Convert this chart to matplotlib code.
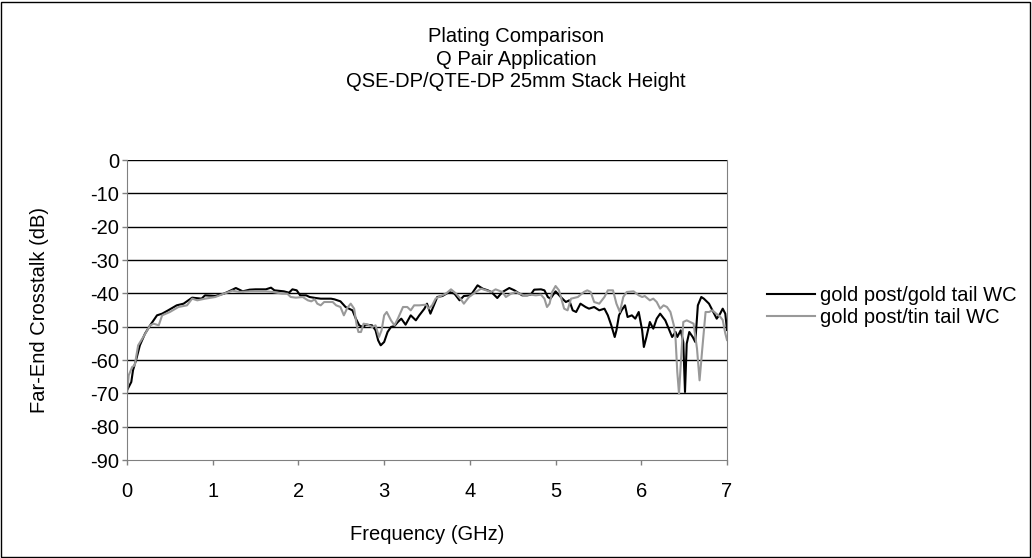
import numpy as np
import matplotlib
matplotlib.use('Agg')
import matplotlib.pyplot as plt
from matplotlib.patches import Rectangle

plt.rcParams['font.family'] = ['Liberation Sans', 'DejaVu Sans']
plt.rcParams['axes.unicode_minus'] = False

# Far-end crosstalk, gold post / gold tail (GHz, dB)
freq_gold = [0.00, 0.05, 0.07, 0.11, 0.15, 0.21, 0.27, 0.35, 0.41, 0.48,
             0.58, 0.66, 0.76, 0.87, 0.91, 1.03, 1.13, 1.19, 1.27, 1.35,
             1.43, 1.50, 1.62, 1.68, 1.72, 1.83, 1.89, 1.93, 1.98, 2.02,
             2.09, 2.13, 2.20, 2.26, 2.38, 2.42, 2.49, 2.55, 2.63, 2.67,
             2.71, 2.75, 2.79, 2.86, 2.90, 2.93, 2.96, 3.00, 3.04, 3.08,
             3.12, 3.16, 3.20, 3.25, 3.31, 3.37, 3.41, 3.47, 3.50, 3.54,
             3.58, 3.62, 3.68, 3.76, 3.82, 3.88, 3.93, 4.01, 4.09, 4.15,
             4.21, 4.25, 4.32, 4.38, 4.46, 4.52, 4.58, 4.61, 4.67, 4.71,
             4.75, 4.83, 4.87, 4.91, 4.94, 5.00, 5.06, 5.12, 5.16, 5.20,
             5.24, 5.29, 5.35, 5.39, 5.45, 5.51, 5.57, 5.61, 5.65, 5.69,
             5.71, 5.74, 5.77, 5.81, 5.84, 5.89, 5.93, 5.97, 6.01, 6.03,
             6.06, 6.10, 6.14, 6.18, 6.22, 6.28, 6.32, 6.36, 6.40, 6.42,
             6.46, 6.49, 6.51, 6.53, 6.56, 6.60, 6.63, 6.66, 6.70, 6.73,
             6.79, 6.84, 6.88, 6.92, 6.95, 6.98, 7.00]
xt_gold = [-69.1, -66.6, -63.1, -59.6, -55.6, -52.1, -49.6, -46.6, -46.1, -45.1,
           -43.6, -43.1, -41.3, -41.6, -40.6, -40.8, -40.1, -39.4, -38.4, -39.4,
           -38.9, -38.8, -38.8, -38.3, -39.1, -39.4, -39.8, -38.8, -39.1, -40.6,
           -40.6, -41.1, -41.4, -41.6, -41.6, -41.8, -42.4, -44.1, -45.1, -47.6,
           -49.6, -50.1, -49.4, -49.6, -51.1, -54.1, -55.6, -54.6, -51.6, -50.1,
           -49.8, -48.6, -47.6, -49.4, -46.6, -48.1, -46.6, -44.6, -43.1, -46.1,
           -43.6, -41.1, -40.8, -39.6, -40.1, -42.1, -40.8, -40.6, -37.6, -38.6,
           -39.1, -39.6, -41.4, -39.6, -38.4, -39.1, -40.1, -40.6, -40.6, -40.4,
           -38.9, -38.8, -39.1, -41.1, -41.6, -39.4, -41.1, -42.6, -42.1, -45.1,
           -45.6, -43.1, -44.1, -44.6, -44.1, -45.1, -44.6, -46.6, -49.6, -53.1,
           -51.1, -46.6, -45.1, -43.6, -47.1, -46.6, -47.6, -45.6, -51.1, -56.1,
           -53.1, -48.6, -50.6, -47.6, -46.1, -48.1, -50.6, -53.1, -51.6, -53.1,
           -51.1, -54.6, -69.6, -55.1, -51.6, -53.1, -54.6, -43.6, -41.1, -41.6,
           -43.1, -45.6, -47.6, -46.1, -44.6, -46.1, -51.0]

# Far-end crosstalk, gold post / tin tail (GHz, dB)
freq_tin = [0.00, 0.02, 0.06, 0.09, 0.13, 0.19, 0.27, 0.31, 0.37, 0.41,
            0.50, 0.60, 0.70, 0.76, 0.82, 0.91, 1.03, 1.13, 1.23, 1.31,
            1.43, 1.62, 1.70, 1.81, 1.87, 1.91, 1.97, 2.05, 2.11, 2.15,
            2.19, 2.22, 2.26, 2.30, 2.40, 2.44, 2.49, 2.53, 2.57, 2.61,
            2.65, 2.68, 2.70, 2.73, 2.76, 2.81, 2.86, 2.90, 2.94, 2.97,
            3.00, 3.03, 3.08, 3.12, 3.16, 3.22, 3.27, 3.31, 3.35, 3.41,
            3.49, 3.52, 3.56, 3.60, 3.66, 3.72, 3.78, 3.84, 3.89, 3.93,
            3.99, 4.07, 4.13, 4.19, 4.25, 4.30, 4.38, 4.42, 4.48, 4.54,
            4.58, 4.63, 4.71, 4.77, 4.83, 4.87, 4.90, 4.93, 4.96, 5.00,
            5.04, 5.10, 5.14, 5.18, 5.26, 5.33, 5.37, 5.41, 5.45, 5.51,
            5.57, 5.61, 5.67, 5.71, 5.75, 5.79, 5.83, 5.91, 5.97, 6.01,
            6.04, 6.10, 6.14, 6.18, 6.22, 6.26, 6.30, 6.34, 6.38, 6.40,
            6.42, 6.44, 6.46, 6.49, 6.53, 6.61, 6.65, 6.68, 6.71, 6.75,
            6.79, 6.83, 6.87, 6.92, 6.95, 6.98, 7.00]
xt_tin = [-70.1, -64.6, -62.1, -61.6, -55.6, -53.1, -49.6, -49.1, -49.6, -46.6,
          -45.6, -44.1, -43.6, -41.6, -42.1, -41.6, -41.1, -40.1, -39.2, -39.6,
          -39.4, -39.4, -39.6, -40.1, -40.1, -41.1, -41.3, -41.1, -42.1, -42.4,
          -41.8, -43.1, -43.6, -42.6, -42.6, -43.6, -44.1, -46.6, -44.4, -43.1,
          -44.6, -49.6, -51.6, -51.6, -49.1, -49.4, -50.1, -49.6, -53.1, -51.1,
          -46.6, -45.6, -48.1, -49.6, -47.6, -44.1, -44.1, -45.1, -43.6, -43.6,
          -43.4, -44.6, -43.6, -41.6, -40.8, -40.1, -38.8, -40.1, -41.6, -43.1,
          -41.1, -39.6, -38.6, -39.1, -39.6, -38.8, -39.6, -41.1, -40.1, -39.6,
          -40.1, -40.6, -40.4, -40.6, -40.4, -41.6, -44.1, -43.1, -39.6, -37.8,
          -39.1, -44.6, -45.1, -41.6, -41.1, -39.6, -39.1, -39.6, -42.6, -43.1,
          -41.1, -39.1, -39.1, -43.1, -45.6, -41.1, -39.6, -39.4, -40.6, -41.1,
          -40.8, -42.1, -41.6, -42.6, -44.6, -43.6, -44.1, -45.6, -49.6, -53.6,
          -63.6, -70.1, -61.6, -48.6, -48.1, -49.1, -56.6, -66.1, -57.1, -45.6,
          -45.6, -45.1, -46.0, -47.0, -48.0, -52.0, -54.0]

title_lines = ['Plating Comparison', 'Q Pair Application',
               'QSE-DP/QTE-DP 25mm Stack Height']
series_labels = ['gold post/gold tail WC', 'gold post/tin tail WC']
y_ticks = list(range(0, -100, -10))
x_ticks = list(range(0, 8))

W, H = 1032, 558
FS = 14.5
fig = plt.figure(figsize=(W / 100, H / 100), dpi=100)
ax = fig.add_axes([127 / W, 1 - 460 / H, 600 / W, 300 / H])

ax.plot(freq_gold, xt_gold, color='black', lw=1.5, label=series_labels[0])
ax.plot(freq_tin, xt_tin, color='#999999', lw=1.5, label=series_labels[1])

ax.set_xlim(0, 7)
ax.set_ylim(-90, 0)
ax.set_xticks(x_ticks)
ax.set_yticks(y_ticks)
ax.tick_params(direction='out', length=3.6, width=1, color='#808080',
               labelsize=FS)
ax.tick_params(axis='x', pad=12)
ax.tick_params(axis='y', pad=2)
for y in y_ticks[:-1]:
    ax.axhline(y, color='black', lw=1, zorder=0)
for side in ['left', 'bottom', 'right']:
    ax.spines[side].set_color('#808080')
ax.spines['top'].set_visible(False)

fig.text(427 / W, 1 - 535 / H, 'Frequency (GHz)', ha='center', va='center',
         fontsize=FS)
fig.text(40 / W, 1 - 310 / H, 'Far-End Crosstalk (dB)', ha='center',
         va='center', rotation=90, fontsize=FS)

for i, line in enumerate(title_lines):
    fig.text(516 / W, 1 - (37 + 22.5 * i) / H, line, ha='center',
             va='center', fontsize=FS)

ax.legend(loc='center left', bbox_to_anchor=(767 / W, 1 - 306.5 / H),
          bbox_transform=fig.transFigure, frameon=False, fontsize=FS,
          handlelength=2.4, handletextpad=0.25, labelspacing=0.12,
          borderpad=0, borderaxespad=0)

fig.patches.append(Rectangle((1 / W, 1 / H), (W - 3) / W, (H - 3) / H,
                             transform=fig.transFigure, fill=False,
                             edgecolor='black', lw=1))

plt.savefig('out.png', dpi=100)
